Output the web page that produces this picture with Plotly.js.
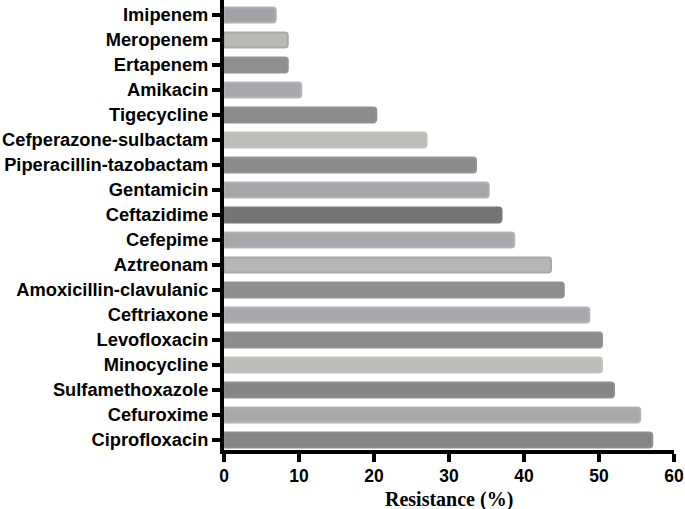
<!DOCTYPE html>
<html>
<head>
<meta charset="utf-8">
<script src="https://cdn.plot.ly/plotly-3.0.1.min.js"></script>
<style>html,body{margin:0;padding:0;background:#fff;}#chart{width:685px;height:509px;}</style>
</head>
<body>
<div id="chart"></div>
<script>
// Categories listed bottom to top
const antibiotics = [
  "Ciprofloxacin", "Cefuroxime", "Sulfamethoxazole", "Minocycline", "Levofloxacin",
  "Ceftriaxone", "Amoxicillin-clavulanic", "Aztreonam", "Cefepime", "Ceftazidime",
  "Gentamicin", "Piperacillin-tazobactam", "Cefperazone-sulbactam", "Tigecycline",
  "Amikacin", "Ertapenem", "Meropenem", "Imipenem"
];
const resistance = [
  57.1, 55.5, 52.0, 50.4, 50.4,
  48.7, 45.3, 43.6, 38.7, 37.0,
  35.3, 33.6, 27.0, 20.3,
  10.3, 8.5, 8.5, 6.9
];
const axisTicks = [0, 10, 20, 30, 40, 50, 60];
const xTitle = "Resistance (%)";

// styles
const fillColors = [
  "#858585", "#a9a9ad", "#858585", "#bcbcba", "#8d8d8d",
  "#a8a8ac", "#8e8e8e", "#b6b6b6", "#a7a7ab", "#747474",
  "#a6a6aa", "#8a8a8a", "#bdbdbb", "#8c8c8c",
  "#a8a8ac", "#8f8f8f", "#b9b9b6", "#a2a2a6"
];
const edgeColors = [
  "#8e8e8e", "#b3b3b6", "#8f8f8f", "#c2c2c0", "#909090",
  "#b2b2b5", "#909090", "#a8a8a8", "#b2b2b5", "#777777",
  "#b2b2b5", "#939393", "#c0c0be", "#8f8f8f",
  "#b4b4b7", "#929292", "#a8a8a8", "#b0b0b4"
];

const trace = {
  type: "bar",
  orientation: "h",
  y: antibiotics,
  x: resistance,
  marker: { color: fillColors, line: { color: edgeColors, width: 2 }, cornerradius: 3 },
  hoverinfo: "none",
  cliponaxis: false
};

const plotHeight = 509 - 59;

const layout = {
  width: 685, height: 509,
  margin: { l: 224, r: 11, t: 0, b: 59, pad: 0 },
  paper_bgcolor: "#ffffff", plot_bgcolor: "#ffffff",
  showlegend: false,
  bargap: 0.4,
  font: { family: "Liberation Sans, Arial, sans-serif", color: "#000000" },
  xaxis: {
    range: [0, 60],
    tickvals: axisTicks,
    ticktext: axisTicks.map(String),
    showgrid: false, zeroline: false,
    showline: true, linecolor: "#000000", linewidth: 4,
    ticks: "outside", ticklen: 8, tickwidth: 4, tickcolor: "#000000",
    ticklabelstandoff: -1,
    tickfont: { family: "Liberation Sans, Arial, sans-serif", size: 17.5, weight: "bold", color: "#000000" }
  },
  yaxis: {
    type: "category",
    range: [-0.4, 17.6],
    showgrid: false, zeroline: false,
    showline: true, linecolor: "#000000", linewidth: 4,
    ticks: "outside", ticklen: 8, tickwidth: 4, tickcolor: "#000000",
    tickfont: { family: "Liberation Sans, Arial, sans-serif", size: 18.3, weight: "bold", color: "#000000" }
  },
  annotations: [{
    text: "<b>" + xTitle + "</b>",
    xref: "paper", yref: "paper",
    x: 0.5, y: -(59 + 3) / plotHeight,
    xanchor: "center", yanchor: "bottom",
    showarrow: false, borderpad: 0,
    font: { family: "Liberation Serif, Times New Roman, serif", size: 20, color: "#000000" }
  }]
};

Plotly.newPlot("chart", [trace], layout, { staticPlot: true, displayModeBar: false });
</script>
</body>
</html>
